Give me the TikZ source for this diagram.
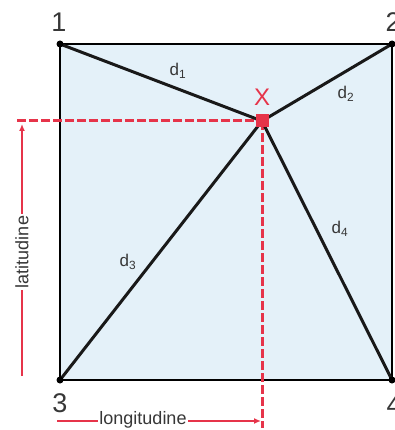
\documentclass[tikz,border=0pt]{standalone}
\usepackage{fontspec}
\setmainfont{Liberation Sans}
\usetikzlibrary{arrows.meta}
\definecolor{redx}{RGB}{230,52,74}
\definecolor{fillb}{RGB}{228,241,249}
\definecolor{txt}{RGB}{55,55,55}
\begin{document}
\begin{tikzpicture}[x=1pt,y=-1pt,
  dist/.style={line width=3pt, black!90, line cap=round},
  reddash/.style={redx, line width=3pt, dash pattern=on 9pt off 3pt},
  redarrow/.style={redx, line width=2.6pt, -{Latex[length=7pt,width=6pt]}},
  corner/.style={font=\fontsize{27}{27}\selectfont, text=txt, inner sep=0pt},
  dlab/.style={font=\fontsize{17}{17}\selectfont, text=txt, inner sep=0pt},
  axlab/.style={font=\fontsize{18}{18}\selectfont, text=txt, fill=white, inner sep=1.5pt},
  dot/.style={circle, fill=black, inner sep=0pt, minimum size=7pt}]
\useasboundingbox (0,0) rectangle (395,430);
\coordinate (c1) at (60,44);
\coordinate (c2) at (392,44);
\coordinate (c3) at (60,380);
\coordinate (c4) at (392,380);
\fill[fillb] (c1) rectangle (c4);
\draw[line width=1.6pt, black] (c1) rectangle (c4);
% dashed lines
\coordinate (dl) at (17,121);
\coordinate (db) at (262,428);
\node[fill=redx, minimum size=13pt, inner sep=0pt] (X) at (262,121) {};
\draw[reddash] (dl) -- (X.center);
\draw[reddash] (X.center) -- (db);
% distances
\draw[dist] (c1) -- (X.center);
\draw[dist] (c2) -- (X.center);
\draw[dist] (c3) -- (X.center);
\draw[dist] (c4) -- (X.center);
\node[fill=redx, minimum size=13pt, inner sep=0pt] at (262,121) {};
% corner dots
\node[dot] (p1) at (c1) {};
\node[dot] (p2) at (c2) {};
\node[dot] (p3) at (c3) {};
\node[dot] (p4) at (c4) {};
% labels
\node[corner] (l1) at (59,22) {1};
\node[corner] (l2) at (393,22) {2};
\node[corner] (l3) at (60,403) {3};
\node[corner] (l4) at (394,405) {4};
\node[font=\fontsize{24}{24}\selectfont, text=redx, inner sep=0pt] (lx) at (262,97) {X};
\node[dlab] (d1) at (178,71) {d\textsubscript{1}};
\node[dlab] (d2) at (346,94) {d\textsubscript{2}};
\node[dlab] (d3) at (128,262) {d\textsubscript{3}};
\node[dlab] (d4) at (340,229) {d\textsubscript{4}};
% latitude / longitude
\coordinate (la0) at (22,376);
\coordinate (la1) at (22,124);
\draw[redarrow] (la0) -- (la1);
\node[axlab, rotate=90] (lat) at (22,252) {latitudine};
\coordinate (lo0) at (57,421);
\coordinate (lo1) at (261,421);
\draw[redarrow] (lo0) -- (lo1);
\node[axlab] (lon) at (143,420) {longitudine};
\end{tikzpicture}
\end{document}
